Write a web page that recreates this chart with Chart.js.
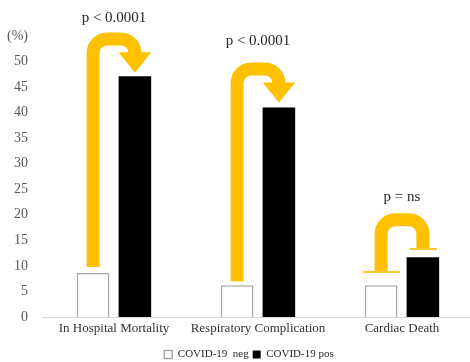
<!DOCTYPE html>
<html>
<head>
<meta charset="utf-8">
<script src="https://cdn.jsdelivr.net/npm/chart.js@4/dist/chart.umd.min.js"></script>
<style>
html,body{margin:0;padding:0;background:#fff;overflow:hidden;}
#wrap{width:476px;height:362px;}
</style>
</head>
<body>
<div id="wrap"><canvas id="c" width="476" height="362"></canvas></div>
<script>
// ---- data ----
const categories = ['In Hospital Mortality', 'Respiratory Complication', 'Cardiac Death'];
const covidNeg = [8.6, 6.2, 6.2];
const covidPos = [47.1, 41.0, 11.7];
const seriesNames = ['COVID-19  neg', 'COVID-19 pos'];
const pLabels = ['p < 0.0001', 'p < 0.0001', 'p = ns'];
const yTicks = [0, 5, 10, 15, 20, 25, 30, 35, 40, 45, 50, 55];

// arrow / bracket shapes (in value units of the y axis)
const arrowKinds = ['arrow', 'arrow', 'bracket'];
const arrowStart = [9.8, 7.0, 8.8];    // bottom of left stem
const arrowTop = [55.7, 49.8, 20.3];   // outer top of curve
const arrowHead = [51.8, 45.9, 13.3];  // head base (arrow) / right end (bracket)
const arrowTip = [47.8, 42.0, 13.3];   // arrow tip
const labelAt = [58.6, 54.1, 23.4];    // p-value text centre

const GOLD = '#FFC000';
const SERIF = '"Liberation Serif", "Times New Roman", serif';

const arrowPlugin = {
  id: 'arrows',
  afterLayout(chart) {
    if (chart.legend) {
      chart.legend.left += 12; chart.legend.right += 12;
      chart.legend.top += 8; chart.legend.bottom += 8;
    }
  },
  afterDatasetsDraw(chart) {
    const ctx = chart.ctx;
    const y = chart.scales.y;
    const m0 = chart.getDatasetMeta(0), m1 = chart.getDatasetMeta(1);
    const lw = 13;
    ctx.save();
    for (let i = 0; i < categories.length; i++) {
      const x1 = m0.data[i].x, x2 = m1.data[i].x;
      const bw = m1.data[i].width;
      const yb = y.getPixelForValue(arrowStart[i]);
      const yt = y.getPixelForValue(arrowTop[i]) + lw / 2;
      const yh = y.getPixelForValue(arrowHead[i]);
      const r = 14;
      ctx.strokeStyle = GOLD;
      ctx.lineWidth = lw;
      ctx.lineCap = 'butt';
      ctx.lineJoin = 'round';
      ctx.beginPath();
      ctx.moveTo(x1, yb);
      ctx.arcTo(x1, yt, x2, yt, r);
      ctx.arcTo(x2, yt, x2, yh, r);
      ctx.lineTo(x2, yh);
      ctx.stroke();
      if (arrowKinds[i] === 'arrow') {
        const ytip = y.getPixelForValue(arrowTip[i]);
        ctx.fillStyle = GOLD;
        ctx.beginPath();
        ctx.moveTo(x2 - bw / 2, yh);
        ctx.lineTo(x2 + bw / 2, yh);
        ctx.lineTo(x2, ytip);
        ctx.closePath();
        ctx.fill();
      } else {
        ctx.lineWidth = 2;
        ctx.strokeStyle = '#F8C832';
        ctx.beginPath();
        ctx.moveTo(x1 - 18, yb); ctx.lineTo(x1 + 19, yb);
        ctx.moveTo(x2 - 13, yh); ctx.lineTo(x2 + 14, yh);
        ctx.stroke();
      }
      ctx.fillStyle = '#262626';
      ctx.font = '15px ' + SERIF;
      ctx.textAlign = 'center';
      ctx.textBaseline = 'middle';
      ctx.fillText(pLabels[i], (x1 + x2) / 2, y.getPixelForValue(labelAt[i]));
    }
    ctx.restore();
  }
};

new Chart(document.getElementById('c'), {
  type: 'bar',
  data: {
    labels: categories,
    datasets: [
      {
        label: seriesNames[0],
        data: covidNeg,
        backgroundColor: '#ffffff',
        borderColor: '#a6a6a6',
        borderWidth: 1.5,
        barPercentage: 0.78,
        categoryPercentage: 0.58
      },
      {
        label: seriesNames[1],
        data: covidPos,
        backgroundColor: '#000000',
        borderColor: '#000000',
        borderWidth: 0,
        barPercentage: 0.78,
        categoryPercentage: 0.58
      }
    ]
  },
  options: {
    responsive: false,
    animation: false,
    layout: { padding: { top: 36, right: 2, left: 0, bottom: 0 } },
    plugins: {
      tooltip: { enabled: false },
      legend: {
        position: 'bottom',
        labels: {
          boxWidth: 8,
          boxHeight: 8,
          padding: 4,
          color: '#262626',
          font: { family: SERIF, size: 11 }
        }
      }
    },
    scales: {
      x: {
        afterFit(scale) { scale.height = 20; },
        grid: { display: false, drawTicks: false },
        border: { display: true, color: '#d9d9d9', width: 1 },
        ticks: {
          color: '#333333',
          padding: 4,
          maxRotation: 0,
          font: { family: SERIF, size: 13 }
        }
      },
      y: {
        min: 0,
        max: 55,
        afterFit(scale) { scale.width = 42; },
        afterBuildTicks(scale) { scale.ticks = yTicks.map(v => ({ value: v })); },
        grid: { display: false, drawTicks: false },
        border: { display: false },
        ticks: {
          color: '#595959',
          padding: 14,
          font: { family: SERIF, size: 14 },
          callback: (v) => (v === 55 ? '(%)' : String(v))
        }
      }
    }
  },
  plugins: [arrowPlugin]
});
</script>
</body>
</html>
